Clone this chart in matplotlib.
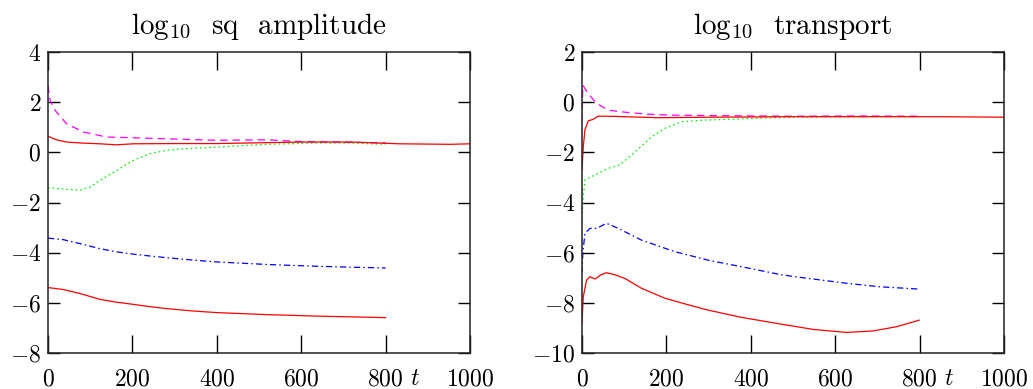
import numpy as np
import matplotlib
matplotlib.use('Agg')
import matplotlib.pyplot as plt

plt.rcParams['font.family'] = ['cmr10', 'DejaVu Serif']
plt.rcParams['mathtext.fontset'] = 'cm'
plt.rcParams['axes.formatter.use_mathtext'] = True

# --- left panel: log10 sq amplitude ---
amp_red_top_t = [0, 20, 44, 80, 123, 162, 202, 300, 400, 500, 597, 716, 834, 953, 1000]
amp_red_top_v = [0.64, 0.50, 0.41, 0.37, 0.34, 0.30, 0.34, 0.35, 0.35, 0.38, 0.41, 0.41, 0.34, 0.32, 0.34]

amp_mag_t = [0, 5, 17, 44, 84, 139, 202, 281, 400, 518, 597, 716, 800]
amp_mag_v = [2.67, 2.07, 1.67, 1.14, 0.81, 0.61, 0.58, 0.54, 0.48, 0.50, 0.43, 0.40, 0.38]

amp_green_t = [0, 44, 76, 100, 123, 163, 202, 242, 281, 320, 400, 518, 637, 716, 800]
amp_green_v = [-1.41, -1.47, -1.51, -1.38, -1.12, -0.72, -0.32, -0.05, 0.08, 0.14, 0.21, 0.32, 0.37, 0.37, 0.32]

amp_blue_t = [0, 36, 76, 123, 160, 202, 240, 281, 340, 400, 460, 518, 580, 637, 720, 800]
amp_blue_v = [-3.42, -3.48, -3.64, -3.84, -3.96, -4.06, -4.13, -4.20, -4.29, -4.37, -4.42, -4.47, -4.51, -4.54, -4.58, -4.61]

amp_red_low_t = [0, 36, 76, 123, 160, 202, 240, 281, 340, 400, 460, 518, 580, 637, 720, 800]
amp_red_low_v = [-5.39, -5.47, -5.63, -5.86, -5.97, -6.06, -6.15, -6.23, -6.32, -6.39, -6.43, -6.47, -6.50, -6.53, -6.56, -6.59]

# --- right panel: log10 transport ---
tr_red_top_t = [0, 3, 7, 15, 26, 38, 60, 102, 181, 300, 500, 700, 850, 1000]
tr_red_top_v = [-2.7, -1.78, -1.1, -0.74, -0.69, -0.56, -0.56, -0.58, -0.62, -0.60, -0.58, -0.58, -0.58, -0.60]

tr_mag_t = [0, 2, 14, 35, 62, 102, 157, 220, 339, 497, 650, 800]
tr_mag_v = [-0.8, 0.68, 0.35, -0.05, -0.32, -0.40, -0.48, -0.52, -0.54, -0.56, -0.55, -0.56]

tr_green_t = [0, 2, 7, 31, 62, 90, 126, 165, 197, 236, 284, 320, 417, 505, 650, 800]
tr_green_v = [-4.8, -4.0, -3.1, -2.9, -2.64, -2.5, -1.98, -1.38, -1.04, -0.78, -0.72, -0.70, -0.64, -0.60, -0.58, -0.58]

tr_blue_t = [0, 2, 7, 19, 35, 58, 86, 141, 220, 299, 378, 469, 505, 627, 706, 797]
tr_blue_v = [-6.8, -6.0, -5.23, -5.03, -5.03, -4.83, -5.03, -5.5, -5.96, -6.3, -6.56, -6.87, -6.96, -7.22, -7.36, -7.45]

tr_red_low_t = [0, 3, 11, 19, 31, 45, 58, 78, 102, 141, 197, 250, 299, 378, 469, 548, 627, 690, 746, 799]
tr_red_low_v = [-8.8, -7.76, -7.09, -6.96, -7.05, -6.88, -6.8, -6.88, -7.03, -7.42, -7.82, -8.07, -8.29, -8.58, -8.84, -9.06, -9.18, -9.12, -8.95, -8.69]

panels = [
    (r'$\mathrm{log}_{10}$  sq  amplitude', (-8, 4),
     [(amp_mag_t, amp_mag_v), (amp_green_t, amp_green_v), (amp_blue_t, amp_blue_v),
      (amp_red_low_t, amp_red_low_v), (amp_red_top_t, amp_red_top_v)]),
    (r'$\mathrm{log}_{10}$  transport', (-10, 2),
     [(tr_mag_t, tr_mag_v), (tr_green_t, tr_green_v), (tr_blue_t, tr_blue_v),
      (tr_red_low_t, tr_red_low_v), (tr_red_top_t, tr_red_top_v)]),
]

styles = [
    dict(color='#ff00ff', dashes=(6, 4)),
    dict(color='#00ee00', dashes=(1.3, 2.4)),
    dict(color='#0000ff', dashes=(5, 2.5, 1.2, 2.5)),
    dict(color='#ff0000', linestyle='-'),
    dict(color='#ff0000', linestyle='-'),
]

fig = plt.figure(figsize=(10.33, 3.89), dpi=100)
lefts = [48 / 1033, 582 / 1033]

for left, (title, ylim, series) in zip(lefts, panels):
    ax = fig.add_axes([left, 36 / 389, 422 / 1033, 301 / 389])
    for (t, v), st in zip(series, styles):
        ax.plot(t, v, lw=0.9, **st)
    ax.set_xlim(0, 1000)
    ax.set_ylim(*ylim)
    ax.set_xticks([0, 200, 400, 600, 800, 1000])
    ax.set_yticks(np.arange(ylim[0], ylim[1] + 1, 2))
    ax.tick_params(axis='x', direction='in', top=True, length=13, width=1, pad=11, labelsize=17)
    ax.tick_params(axis='y', direction='in', right=True, length=8.5, width=1, pad=5, labelsize=17)
    for s in ax.spines.values():
        s.set_linewidth(1.1)
        s.set_color('#222222')
    ax.set_title(title, fontsize=21, pad=13)
    ax.text(0.87, -0.105, '$t$', transform=ax.transAxes, fontsize=17,
            ha='center', va='baseline')

fig.savefig('out.png', dpi=100)
